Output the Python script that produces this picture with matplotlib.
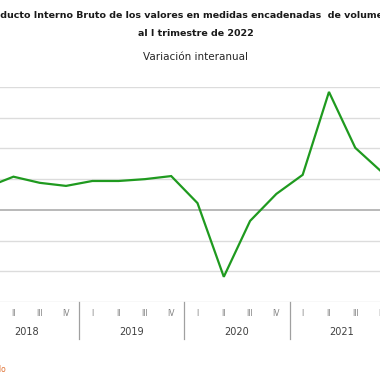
import matplotlib
matplotlib.use("Agg")
import matplotlib.pyplot as plt
from matplotlib.lines import Line2D

years = ["2018", "2019", "2020", "2021", "2022"]
quarters = ["I", "II", "III", "IV"]
values = [3.7, 5.4, 4.4, 3.9, 4.7, 4.7, 5.0, 5.5, 1.1, -10.9, -1.8, 2.6, 5.7, 19.2, 10.1, 6.2, 3.8]
yticks = [-15, -10, -5, 0, 5, 10, 15, 20]

W, H = 380, 380
fig = plt.figure(figsize=(W / 100, H / 100), dpi=100)
fig.patch.set_facecolor("white")

left_px, right_px, top_px, bot_px = -26, 421, 87, 302
ax = fig.add_axes([left_px / W, 1 - bot_px / H, (right_px - left_px) / W, (bot_px - top_px) / H])

n = len(values)
x = list(range(n))
ax.plot(x, values, color="#1f9a1f", lw=1.6, solid_joinstyle="miter", zorder=3)

ax.set_xlim(-0.5, n - 0.5)
ax.set_ylim(-15, 20)
ax.set_yticks(yticks)
ax.set_yticklabels([])
ax.tick_params(axis="y", length=0)
for v in yticks:
    if v == 0:
        ax.axhline(v, color="#a6a6a6", lw=1.1, zorder=2)
    else:
        ax.axhline(v, color="#dcdcdc", lw=1.0, zorder=1)

for s in ax.spines.values():
    s.set_visible(False)

qlabels = [quarters[i % 4] for i in range(n)]
ax.set_xticks(x)
ax.set_xticklabels(qlabels, fontsize=5.5, color="#808080", family="DejaVu Sans")
ax.tick_params(axis="x", length=0, pad=5)

trans = ax.get_xaxis_transform()
ax_h = bot_px - top_px
for yi, yr in enumerate(years):
    start = yi * 4
    end = min(start + 3, n - 1)
    center = (start + end) / 2 if yi < len(years) - 1 else start
    ax.text(center, -30 / ax_h, yr, transform=trans, ha="center", va="center",
            fontsize=7, color="#404040", clip_on=False)
    if yi > 0:
        sep = start - 0.5
        ax.add_line(Line2D([sep, sep], [0, -37 / ax_h], transform=trans,
                           color="#a0a0a0", lw=0.9, clip_on=False))

fig.text(-17.5 / W, 1 - 16 / H,
         "Producto Interno Bruto de los valores en medidas encadenadas  de volumen",
         ha="left", va="center", fontsize=6.8, fontweight="bold", color="#1a1a1a")
fig.text(196 / W, 1 - 33 / H, "al I trimestre de 2022",
         ha="center", va="center", fontsize=6.8, fontweight="bold", color="#1a1a1a")
fig.text(195 / W, 1 - 57 / H, "Variación interanual",
         ha="center", va="center", fontsize=7.5, color="#262626")
fig.text(6 / W, 1 - 370 / H, "Fuente: Elaborado", ha="right", va="center",
         fontsize=5.5, color="#e07030")

fig.savefig("out.png", dpi=100, facecolor="white")
